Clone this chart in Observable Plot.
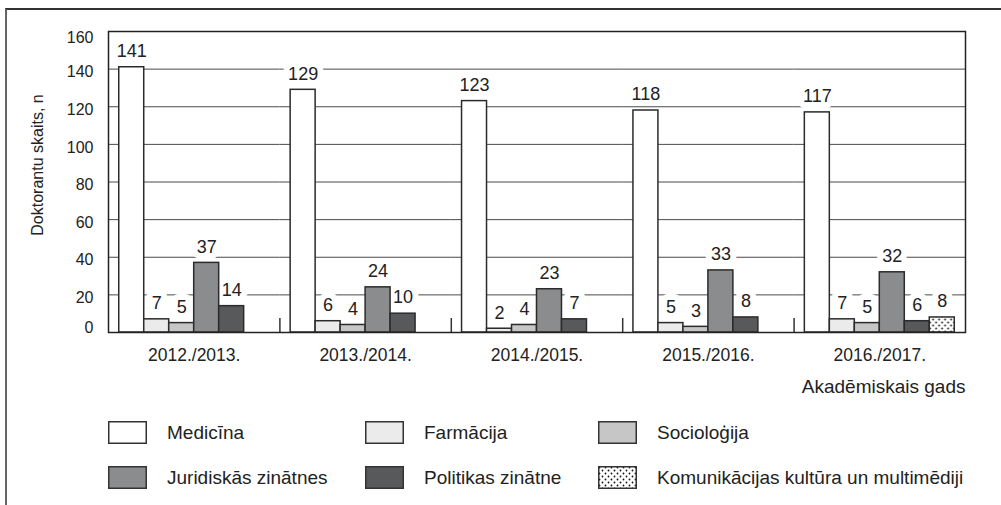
<!DOCTYPE html>
<html><head><meta charset="utf-8">
<script src="https://cdn.jsdelivr.net/npm/d3@7"></script>
<script src="https://cdn.jsdelivr.net/npm/@observablehq/plot@0.6"></script>
<style>
body{margin:0;background:#fff;font-family:"Liberation Sans",Arial,sans-serif;color:#222;}
#wrap{position:relative;width:1001px;height:505px;overflow:hidden;background:#fff;}
#border{position:absolute;left:5px;top:8px;width:1000px;height:500px;border-top:2px solid #333;border-left:2px solid #666;pointer-events:none;}
#chart{position:absolute;left:0;top:0;}
.leg{position:absolute;display:flex;align-items:center;font-size:19px;color:#222;white-space:nowrap;height:23px;}
.leg svg{margin-right:20px;flex:none;}
</style></head><body>
<div id="wrap"><div id="chart"></div><div id="legend"></div><div id="border"></div></div>
<script>
const years = ["2012./2013.", "2013./2014.", "2014./2015.", "2015./2016.", "2016./2017."];
const categories = ["Medicīna", "Farmācija", "Socioloģija", "Juridiskās zinātnes", "Politikas zinātne", "Komunikācijas kultūra un multimēdiji"];
const medicina = [141, 129, 123, 118, 117];
const farmacija = [7, 6, 2, 5, 7];
const sociologija = [5, 4, 4, 3, 5];
const juridiskas = [37, 24, 23, 33, 32];
const politikas = [14, 10, 7, 8, 6];
const komunikacijas = [null, null, null, null, 8];
const yTicks = [0, 20, 40, 60, 80, 100, 120, 140, 160];
const colors = ["#ffffff", "#ebebeb", "#c6c6c6", "#8b8c8e", "#58595b", "url(#dots)"];
const yLabel = "Doktorantu skaits, n";
const xLabel = "Akadēmiskais gads";

const series = [medicina, farmacija, sociologija, juridiskas, politikas, komunikacijas];
const table = [];
years.forEach((year, j) => categories.forEach((category, i) => {
  const value = series[i][j];
  if (value != null) table.push({year, category, value});
}));

const width = 1001, height = 410;
const mL = 108, mR = 36, mT = 31, mB = 78;
const po = 0.43;
const facetW = (width - mL - mR) / years.length;
const step = facetW / (categories.length + 2 * po);
const font = "Liberation Sans, Arial, sans-serif";
const axisStyle = {tickSize: 0, tickPadding: 15, fontSize: 16, label: null, fill: "#222"};
const dotsPattern = id =>
  '<pattern id="' + id + '" width="6" height="6" patternUnits="userSpaceOnUse">' +
  '<rect width="6" height="6" fill="white"/>' +
  '<circle cx="1.5" cy="1.5" r="0.9" fill="#111"/><circle cx="4.5" cy="4.5" r="0.9" fill="#111"/></pattern>';

const plot = Plot.plot({
  width, height,
  marginTop: mT, marginLeft: mL, marginRight: mR, marginBottom: mB,
  style: {background: "transparent", fontFamily: font, color: "#222", overflow: "visible"},
  fx: {domain: years, padding: 0, round: false, label: null},
  x: {domain: categories, paddingInner: 0, paddingOuter: po, round: false, axis: null},
  y: {domain: [0, 160], axis: null, label: null},
  color: {domain: categories, range: colors},
  marks: [
    Plot.ruleY(yTicks.slice(1, -1), {stroke: "#4a4a4a", strokeWidth: 1}),
    Plot.text(table, {fx: "year", x: "category", y: "value", text: d => String(d.value), dy: -16,
      fontSize: 18, fill: "#222", stroke: "white", strokeWidth: 12, strokeLinejoin: "round"}),
    Plot.barY(table, {fx: "year", x: "category", y: "value", fill: "category", stroke: "#2b2b2b", strokeWidth: 1.5}),
    Plot.ruleX(years.slice(1), {fx: d => d, x: () => categories[0], dx: -(po * step + step / 2),
      insetTop: (height - mT - mB) - 14, stroke: "#333", strokeWidth: 1.5}),
    Plot.frame({facet: "super", stroke: "#222", strokeWidth: 1.5}),
    Plot.axisY(yTicks.slice(1, -1), {...axisStyle, dy: 3}),
    Plot.axisY([yTicks[0]], {...axisStyle, dy: -5}),
    Plot.axisY([yTicks[yTicks.length - 1]], {...axisStyle, dy: 6}),
    Plot.axisFx({anchor: "bottom", tickSize: 0, tickPadding: 16, fontSize: 17.5, label: null, fill: "#222"}),
    Plot.text([xLabel], {facet: "super", frameAnchor: "bottom-right", text: d => d, textAnchor: "end",
      dy: 60, fontSize: 19, fill: "#222"}),
    Plot.text([yLabel], {facet: "super", frameAnchor: "left", text: d => d, rotate: -90, textAnchor: "middle",
      dx: -71, dy: -17, fontSize: 16, fill: "#222"})
  ]
});

d3.select(plot).insert("defs", ":first-child").html(dotsPattern("dots"));
document.getElementById("chart").appendChild(plot);

// legend
const legCols = [108, 365, 598], legRows = [421, 466];
const legend = document.getElementById("legend");
categories.forEach((c, i) => {
  const item = document.createElement("div");
  item.className = "leg";
  item.style.left = legCols[i % 3] + "px";
  item.style.top = legRows[Math.floor(i / 3)] + "px";
  const fill = colors[i].startsWith("url") ? "url(#dotsLeg)" : colors[i];
  item.innerHTML =
    '<svg width="39" height="23"><defs>' + dotsPattern("dotsLeg") + '</defs>' +
    '<rect x="0.75" y="0.75" width="37.5" height="21.5" fill="' + fill + '" stroke="#333" stroke-width="1.5"/></svg>' +
    '<span>' + c + '</span>';
  legend.appendChild(item);
});
</script>
</body></html>
